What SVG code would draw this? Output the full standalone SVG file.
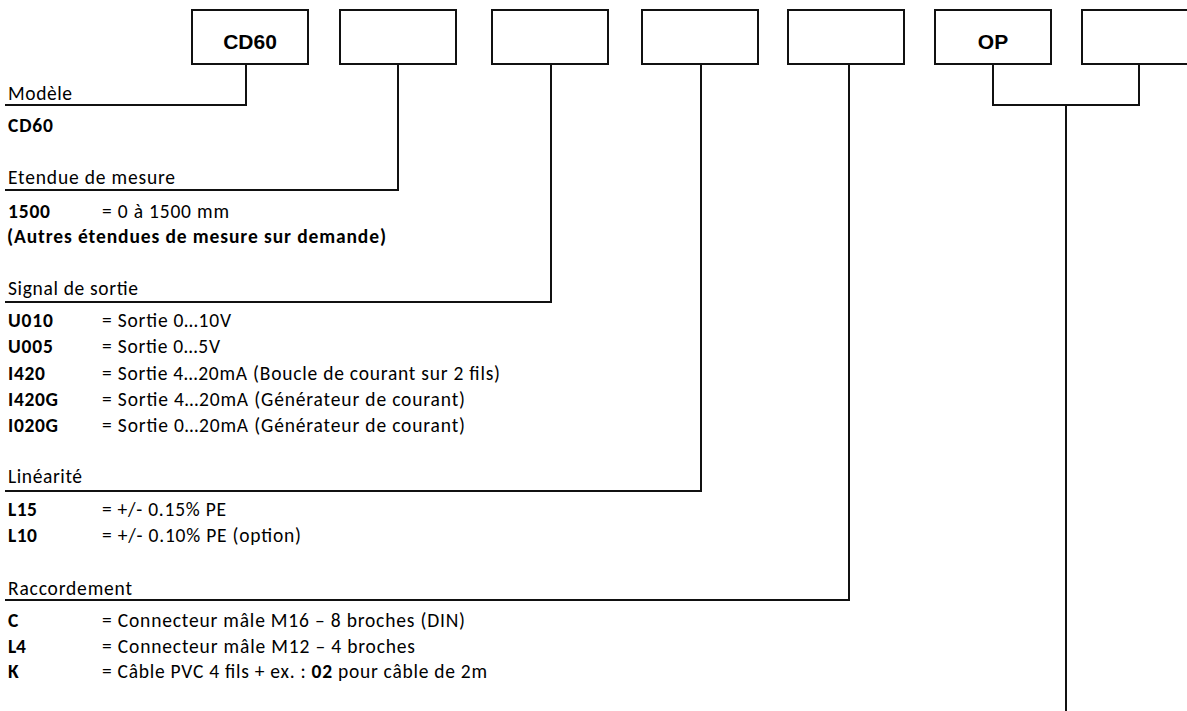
<svg xmlns="http://www.w3.org/2000/svg" width="1187" height="711" viewBox="0 0 1187 711">
<style>
.box{fill:#fff;stroke:#111;stroke-width:2}
.bl{font-family:"Liberation Sans",Arial,sans-serif;font-weight:bold;font-size:21px;fill:#000;text-anchor:middle}
.t{font-family:Carlito,Lato,"Liberation Sans",sans-serif;font-size:19.5px;fill:#000}
.b{font-weight:bold}
.con{fill:none;stroke:#111;stroke-width:2}
</style>
<rect width="1187" height="711" fill="#fff"/>
<g id="connectors">
<polyline class="con" points="246,64 246,105 5,105"/>
<polyline class="con" points="398,64 398,190 5,190"/>
<polyline class="con" points="551,64 551,302 5,302"/>
<polyline class="con" points="701,64 701,491 5,491"/>
<polyline class="con" points="849,64 849,600 5,600"/>
<polyline class="con" points="993,64 993,105 1139,105 1139,64"/>
<line class="con" x1="1066" y1="105" x2="1066" y2="711"/>
</g>
<g id="box-model"><rect class="box" x="192" y="10" width="116" height="54"/><text class="bl" x="250" y="49">CD60</text></g>
<g id="box-range"><rect class="box" x="340" y="10" width="116" height="54"/></g>
<g id="box-signal"><rect class="box" x="492" y="10" width="116" height="54"/></g>
<g id="box-linearity"><rect class="box" x="642" y="10" width="116" height="54"/></g>
<g id="box-connection"><rect class="box" x="788" y="10" width="116" height="54"/></g>
<g id="box-op"><rect class="box" x="935" y="10" width="116" height="54"/><text class="bl" x="993" y="49">OP</text></g>
<g id="box-last"><rect class="box" x="1082" y="10" width="116" height="54"/></g>
<g id="legend">
<text class="t" x="8" y="100" textLength="64">Modèle</text>
<text class="t b" x="8" y="132" textLength="45">CD60</text>
<text class="t" x="8" y="184" textLength="167">Etendue de mesure</text>
<text class="t b" x="8" y="218" textLength="42">1500</text>
<text class="t" x="102" y="218" textLength="127">= 0 à 1500 mm</text>
<text class="t b" x="7" y="243" textLength="379">(Autres étendues de mesure sur demande)</text>
<text class="t" x="8" y="295" textLength="130">Signal de sortie</text>
<text class="t b" x="8" y="327" textLength="45">U010</text>
<text class="t" x="102" y="327" textLength="129">= Sortie 0…10V</text>
<text class="t b" x="8" y="353" textLength="45">U005</text>
<text class="t" x="102" y="353" textLength="118">= Sortie 0…5V</text>
<text class="t b" x="8" y="380" textLength="37">I420</text>
<text class="t" x="102" y="380" textLength="398">= Sortie 4…20mA (Boucle de courant sur 2 fils)</text>
<text class="t b" x="8" y="406" textLength="50">I420G</text>
<text class="t" x="102" y="406" textLength="363">= Sortie 4…20mA (Générateur de courant)</text>
<text class="t b" x="8" y="432" textLength="50">I020G</text>
<text class="t" x="102" y="432" textLength="363">= Sortie 0…20mA (Générateur de courant)</text>
<text class="t" x="8" y="483" textLength="74">Linéarité</text>
<text class="t b" x="8" y="516" textLength="29">L15</text>
<text class="t" x="102" y="516" textLength="124">= +/- 0.15% PE</text>
<text class="t b" x="8" y="542" textLength="29">L10</text>
<text class="t" x="102" y="542" textLength="199">= +/- 0.10% PE (option)</text>
<text class="t" x="8" y="595" textLength="124">Raccordement</text>
<text class="t b" x="8" y="627">C</text>
<text class="t" x="102" y="627" textLength="363">= Connecteur mâle M16 – 8 broches (DIN)</text>
<text class="t b" x="8" y="653" textLength="18">L4</text>
<text class="t" x="102" y="653" textLength="313">= Connecteur mâle M12 – 4 broches</text>
<text class="t b" x="8" y="678">K</text>
<text class="t" x="102" y="678" textLength="385">= Câble PVC 4 fils + ex. : <tspan class="b">02</tspan> pour câble de 2m</text>
</g>
</svg>
